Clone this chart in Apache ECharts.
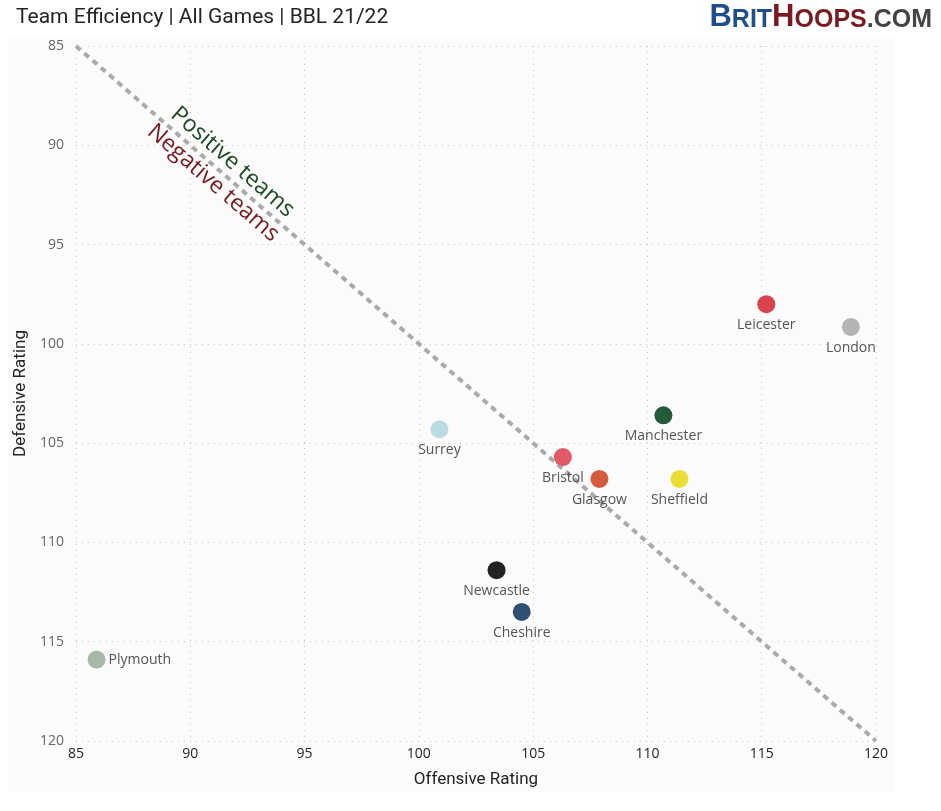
<!DOCTYPE html>
<html>
<head>
<meta charset="utf-8">
<script src="https://cdn.jsdelivr.net/npm/echarts@6/dist/echarts.min.js"></script>
<style>
  html, body { margin: 0; padding: 0; background: #fff; }
  #chart { width: 941px; height: 811px; }
</style>
</head>
<body>
<div id="chart"></div>
<script>
/* ---- Data ---- */
const teams = ["Leicester", "London", "Manchester", "Surrey", "Bristol", "Glasgow", "Sheffield", "Newcastle", "Cheshire", "Plymouth"];
const offRating = [115.2, 118.9, 110.7, 100.9, 106.3, 107.9, 111.4, 103.4, 104.5, 85.9];
const defRating = [98.0, 99.15, 103.6, 104.3, 105.7, 106.8, 106.8, 111.4, 113.5, 115.9];
const teamColors = ["#d9434c", "#b4b4b4", "#255a38", "#b9dbe1", "#e05a67", "#d65a3b", "#ebdd36", "#232323", "#2f5073", "#a6b9a9"];
const axisTicks = [85, 90, 95, 100, 105, 110, 115, 120];
const diagonal = [[85, 85], [120, 120]];
const notes = ["Positive teams", "Negative teams"];
const notePos = [[91.85, 90.85], [91.0, 91.9]];
const noteColors = ["#1d4a22", "#7a1a1f"];

(function () {
  "use strict";
  const chart = echarts.init(document.getElementById("chart"), null, { renderer: "canvas" });
  const lo = axisTicks[0], hi = axisTicks[axisTicks.length - 1];
  const step = axisTicks[1] - axisTicks[0];
  const labelFont = "'Open Sans', 'Noto Sans', sans-serif";
  const titleFont = "Roboto, 'Noto Sans', sans-serif";
  const logoFont = "'Liberation Sans', sans-serif";
  const grid = { lineStyle: { color: "#c8c8c8", type: [1, 5], width: 1 } };

  const points = teams.map((t, i) => ({
    name: t,
    value: [offRating[i], defRating[i]],
    itemStyle: { color: teamColors[i] },
    label: t === "Plymouth" ? { position: "right", distance: 3 } : undefined
  }));

  const logoPart = (size, fill) => ({ fontSize: size, fontWeight: 900, fontFamily: logoFont, fill: fill, verticalAlign: "bottom" });

  chart.setOption({
    backgroundColor: "#ffffff",
    animation: false,
    graphic: [
      { type: "rect", z: -10, shape: { x: 8, y: 37, width: 885, height: 755 }, style: { fill: "#fbfbfb" } },
      { type: "text", left: 16, top: 7, style: { text: "Team Efficiency | All Games | BBL 21/22", font: "21px " + titleFont, fill: "#252423" } },
      {
        type: "text", right: 9, top: 2,
        style: {
          text: "{b|B}{s|RIT}{h|H}{r|OOPS}{g|.COM}",
          rich: {
            b: logoPart(31, "#1f4e8c"),
            s: logoPart(25, "#1f4e8c"),
            h: logoPart(31, "#7b1a20"),
            r: logoPart(25, "#7b1a20"),
            g: logoPart(25, "#444444")
          }
        }
      }
    ],
    grid: { left: 76, right: 65, top: 46, bottom: 70 },
    xAxis: {
      type: "value", min: lo, max: hi, interval: step,
      name: "Offensive Rating", nameLocation: "middle", nameGap: 30,
      nameTextStyle: { fontFamily: titleFont, fontSize: 17, color: "#252423" },
      axisLine: { show: false }, axisTick: { show: false },
      axisLabel: { fontFamily: labelFont, fontSize: 14, color: "#252423", margin: 6 },
      splitLine: grid
    },
    yAxis: {
      type: "value", min: lo, max: hi, interval: step, inverse: true,
      name: "Defensive Rating", nameLocation: "middle", nameGap: 42,
      nameTextStyle: { fontFamily: titleFont, fontSize: 17, color: "#252423" },
      axisLine: { show: false }, axisTick: { show: false },
      axisLabel: { fontFamily: labelFont, fontSize: 14, color: "#666666", margin: 12 },
      splitLine: grid
    },
    series: [
      {
        type: "line", data: diagonal, symbol: "none", silent: true, z: 1,
        lineStyle: { color: "#aaaaaa", width: 4, type: [6, 5] }
      },
      {
        type: "scatter", data: notes.map((n, i) => ({ name: n, value: notePos[i], label: { color: noteColors[i] } })),
        symbolSize: 0, silent: true, z: 3, itemStyle: { opacity: 1 },
        label: { show: true, position: "inside", formatter: "{b}", rotate: -41, fontFamily: labelFont, fontSize: 23 }
      },
      {
        type: "scatter", data: points, symbolSize: 18, z: 4, itemStyle: { opacity: 1 },
        label: { show: true, position: "bottom", distance: 5, formatter: "{b}", fontFamily: labelFont, fontSize: 14, color: "#555555" }
      }
    ]
  });
})();
</script>
</body>
</html>
